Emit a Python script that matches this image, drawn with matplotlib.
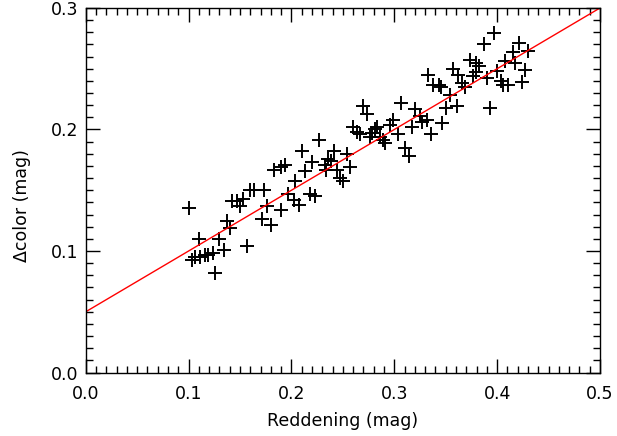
import matplotlib
matplotlib.use("Agg")
import matplotlib.pyplot as plt
from matplotlib.ticker import MultipleLocator
import numpy as np

reddening = [
    0.100, 0.210, 0.220, 0.183, 0.190, 0.194, 0.213, 0.203, 0.160, 0.164,
    0.173, 0.197, 0.218, 0.202, 0.207, 0.142, 0.147, 0.150, 0.153, 0.176,
    0.190, 0.171, 0.180, 0.137, 0.140, 0.110, 0.130, 0.134, 0.157, 0.126,
    0.103, 0.106, 0.111, 0.116, 0.119, 0.124,
    0.333, 0.338, 0.307, 0.270, 0.273, 0.320, 0.325, 0.327, 0.317, 0.336,
    0.299, 0.296, 0.304, 0.283, 0.260, 0.264, 0.267, 0.278, 0.281, 0.286,
    0.289, 0.291, 0.276, 0.310, 0.314, 0.227, 0.241, 0.254, 0.236, 0.238,
    0.233, 0.234, 0.244, 0.257, 0.247, 0.250, 0.223,
    0.397, 0.387, 0.421, 0.415, 0.430, 0.408, 0.417, 0.374, 0.379, 0.382,
    0.357, 0.362, 0.379, 0.377, 0.400, 0.427, 0.390, 0.404, 0.406, 0.411,
    0.424, 0.343, 0.345, 0.366, 0.369, 0.354, 0.350, 0.361, 0.393, 0.332,
    0.346,
]
dcolor = [
    0.135, 0.182, 0.173, 0.167, 0.169, 0.171, 0.166, 0.158, 0.150, 0.150,
    0.150, 0.147, 0.147, 0.142, 0.138, 0.141, 0.141, 0.137, 0.143, 0.137,
    0.134, 0.126, 0.121, 0.125, 0.119, 0.110, 0.110, 0.101, 0.104, 0.082,
    0.093, 0.095, 0.095, 0.097, 0.097, 0.098,
    0.245, 0.237, 0.222, 0.219, 0.213, 0.217, 0.211, 0.206, 0.202, 0.196,
    0.208, 0.204, 0.196, 0.202, 0.202, 0.198, 0.196, 0.197, 0.200, 0.194,
    0.191, 0.189, 0.194, 0.185, 0.178, 0.191, 0.182, 0.180, 0.176, 0.174,
    0.171, 0.167, 0.167, 0.169, 0.160, 0.158, 0.145,
    0.279, 0.270, 0.271, 0.264, 0.265, 0.256, 0.255, 0.257, 0.255, 0.252,
    0.250, 0.245, 0.247, 0.244, 0.248, 0.249, 0.242, 0.240, 0.237, 0.237,
    0.239, 0.237, 0.235, 0.238, 0.235, 0.228, 0.218, 0.219, 0.218, 0.208,
    0.205,
]
fit_intercept = 0.050
fit_slope = 0.500
xticks = [0.0, 0.1, 0.2, 0.3, 0.4, 0.5]
yticks = [0.0, 0.1, 0.2, 0.3]

fig = plt.figure(figsize=(6.17, 4.36), dpi=100)
ax = fig.add_axes([0.139, 0.1456, 0.8334, 0.8361])

ax.plot(reddening, dcolor, linestyle="none", marker="+", color="black",
        markersize=9.5, markeredgewidth=1.4)
xl = np.array([0.0, 0.5])
ax.plot(xl, fit_intercept + fit_slope * xl, color="red", linewidth=1.0)

ax.set_xlim(0.0, 0.5)
ax.set_ylim(0.0, 0.3)
ax.set_xticks(xticks)
ax.set_yticks(yticks)
ax.set_xticklabels([f"{t:.1f}" for t in xticks])
ax.set_yticklabels([f"{t:.1f}" for t in yticks])
ax.xaxis.set_minor_locator(MultipleLocator(0.01))
ax.yaxis.set_minor_locator(MultipleLocator(0.01))
ax.tick_params(which="both", direction="in", top=True, right=True,
               labelsize=12.5, colors="black", width=1.0)
ax.tick_params(which="major", length=10)
ax.tick_params(which="minor", length=5)
ax.tick_params(axis="x", which="major", pad=9)
ax.tick_params(axis="y", which="major", pad=5)
for s in ax.spines.values():
    s.set_linewidth(1.0)

ax.set_xlabel("Reddening (mag)", fontsize=12.5, va="center", ha="center")
ax.set_ylabel("Δcolor (mag)", fontsize=12.5, va="center", ha="center")
ax.xaxis.set_label_coords(0.5, -0.133)
ax.yaxis.set_label_coords(-0.124, 0.457)

fig.savefig("out.png", dpi=100)
